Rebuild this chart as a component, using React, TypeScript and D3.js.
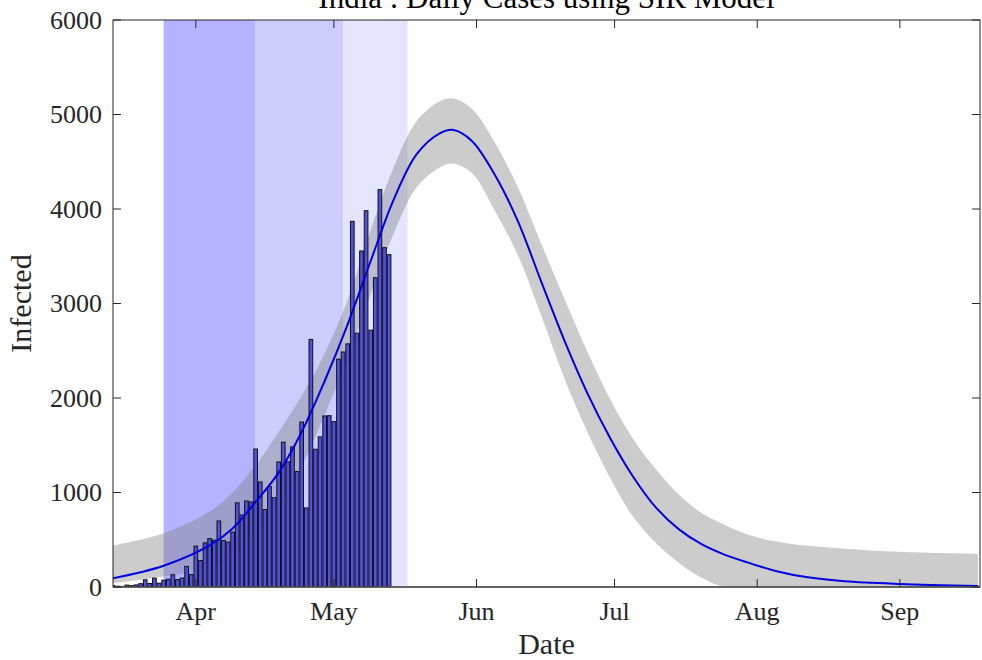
import React from 'react'
import * as d3 from 'd3'

// daily confirmed cases, one value per day from 14 Mar to 13 May 2020
const caseValues = [
  14, 8, 6, 20, 14, 22, 35, 76, 37, 94, 40, 72, 82, 130, 79, 95, 218, 134, 432, 280,
  467, 512, 496, 699, 492, 475, 580, 891, 762, 910, 900, 1460, 1112, 820, 1064, 945,
  1323, 1532, 1324, 1483, 1222, 1746, 837, 2620, 1458, 1589, 1810, 1813, 1750, 2410,
  2487, 2573, 3870, 2686, 3556, 3982, 2718, 3273, 4205, 3591, 3517
]
const caseStart = '2020-03-14'

const fitDates = [
  '2020-03-14', '2020-03-25', '2020-04-04', '2020-04-09', '2020-04-14', '2020-04-19',
  '2020-04-24', '2020-04-29', '2020-05-04', '2020-05-09', '2020-05-14', '2020-05-19',
  '2020-05-24', '2020-05-27', '2020-05-31', '2020-06-05', '2020-06-10', '2020-06-15',
  '2020-06-20', '2020-06-25', '2020-06-30', '2020-07-05', '2020-07-10', '2020-07-15',
  '2020-07-20', '2020-07-25', '2020-07-30', '2020-08-05', '2020-08-12', '2020-08-20',
  '2020-09-01', '2020-09-18'
]
const fitValues = [
  92, 225, 440, 620, 900, 1210, 1640, 2180, 2780, 3450, 4100, 4580, 4800, 4836, 4720,
  4360, 3870, 3240, 2620, 2060, 1580, 1170, 840, 610, 450, 340, 258, 170, 102, 60, 32, 10
]
const fitUpper = [
  440, 570, 800, 1000, 1290, 1640, 2020, 2470, 3040, 3780, 4440, 4930, 5140, 5170, 5060,
  4700, 4230, 3640, 3060, 2500, 1990, 1570, 1245, 975, 780, 655, 552, 482, 436, 405, 372, 349
]
const fitLower = [
  40, 110, 200, 320, 560, 860, 1280, 1820, 2420, 3100, 3740, 4230, 4440, 4480, 4380,
  3980, 3510, 2880, 2220, 1650, 1160, 745, 465, 255, 95, 0, 0, 0, 0, 0, 0, 0
]

// lockdown phases
const phaseStarts = ['2020-03-25', '2020-04-14', '2020-05-03']
const phaseEnds = ['2020-04-14', '2020-05-03', '2020-05-17']
const phaseColors = ['#b3b3ff', '#ccccff', '#e5e5ff']

const yTicks = [0, 1000, 2000, 3000, 4000, 5000, 6000]
const monthTicks = ['2020-04-01', '2020-05-01', '2020-06-01', '2020-07-01', '2020-08-01', '2020-09-01']

const parse = d3.utcParse('%Y-%m-%d')

const App = () => {
  const left = 113
  const right = 980
  const top = 20
  const bottom = 587
  const tick = 8
  const axisColor = '#262626'
  const font = '"Liberation Serif", "Times New Roman", serif'

  const x = d3
    .scaleUtc()
    .domain([parse('2020-03-14'), new Date(Date.UTC(2020, 8, 18, 10))])
    .range([left, right])
  const y = d3.scaleLinear().domain([0, 6000]).range([bottom, top])

  const start = parse(caseStart)
  const caseDates = caseValues.map((_, i) => d3.utcDay.offset(start, i))
  const dayW = x(d3.utcDay.offset(start, 1)) - x(start)
  const barW = dayW * 0.8

  const fit = fitDates.map((d, i) => ({
    date: parse(d),
    v: fitValues[i],
    hi: fitUpper[i],
    lo: fitLower[i]
  }))

  const band = d3
    .area()
    .x((d) => x(d.date))
    .y0((d) => y(d.lo))
    .y1((d) => y(d.hi))
    .curve(d3.curveCatmullRom.alpha(0.5))

  const line = d3
    .line()
    .x((d) => x(d.date))
    .y((d) => y(d.v))
    .curve(d3.curveCatmullRom.alpha(0.5))

  const monthFmt = d3.utcFormat('%b')

  return (
    <svg
      width={982}
      height={660}
      style={{ position: 'absolute', left: 0, top: 0, background: '#fff' }}
    >
      <defs>
        <clipPath id="plot">
          <rect x={left} y={top} width={right - left} height={bottom - top} />
        </clipPath>
      </defs>

      <g clipPath="url(#plot)">
        {phaseStarts.map((s, i) => (
          <rect
            key={s}
            x={x(parse(s))}
            y={top}
            width={x(parse(phaseEnds[i])) - x(parse(s))}
            height={bottom - top}
            fill={phaseColors[i]}
          />
        ))}

        <path d={band(fit)} fill="#808080" fillOpacity={0.4} stroke="none" />

        {caseValues.map((v, i) => (
          <rect
            key={i}
            x={x(caseDates[i]) - barW / 2}
            y={y(v)}
            width={barW}
            height={Math.max(0, bottom - y(v))}
            fill="#5050e4"
            stroke="#111"
            strokeWidth={1}
          />
        ))}

        <path d={line(fit)} fill="none" stroke="#0000dd" strokeWidth={2} />
      </g>

      {/* frame */}
      <rect
        x={left}
        y={top}
        width={right - left}
        height={bottom - top}
        fill="none"
        stroke={axisColor}
        strokeWidth={1}
      />
      <line x1={left} x2={right} y1={bottom} y2={bottom} stroke="#555" strokeWidth={1.5} />

      {/* y ticks */}
      {yTicks.map((t) => (
        <g key={t}>
          <line x1={left} x2={left + tick} y1={y(t)} y2={y(t)} stroke={axisColor} />
          <line x1={right} x2={right - tick} y1={y(t)} y2={y(t)} stroke={axisColor} />
          <text
            x={left - 11}
            y={y(t)}
            dy="0.34em"
            textAnchor="end"
            fontFamily={font}
            fontSize={26}
            fill={axisColor}
          >
            {t}
          </text>
        </g>
      ))}

      {/* x ticks */}
      {monthTicks.map((m) => {
        const px = x(parse(m))
        return (
          <g key={m}>
            <line x1={px} x2={px} y1={bottom} y2={bottom - tick} stroke={axisColor} />
            <line x1={px} x2={px} y1={top} y2={top + tick} stroke={axisColor} />
            <text
              x={px}
              y={620}
              textAnchor="middle"
              fontFamily={font}
              fontSize={26}
              fill={axisColor}
            >
              {monthFmt(parse(m))}
            </text>
          </g>
        )
      })}

      <text
        x={(left + right) / 2}
        y={654}
        textAnchor="middle"
        fontFamily={font}
        fontSize={30}
        fill={axisColor}
      >
        Date
      </text>
      <text
        transform={`translate(31,${(top + bottom) / 2}) rotate(-90)`}
        textAnchor="middle"
        fontFamily={font}
        fontSize={30}
        fill={axisColor}
      >
        Infected
      </text>
      <text
        x={(left + right) / 2}
        y={8}
        textAnchor="middle"
        fontFamily={font}
        fontSize={31}
        fill="#000"
      >
        India : Daily Cases using SIR Model
      </text>
    </svg>
  )
}

export default App
